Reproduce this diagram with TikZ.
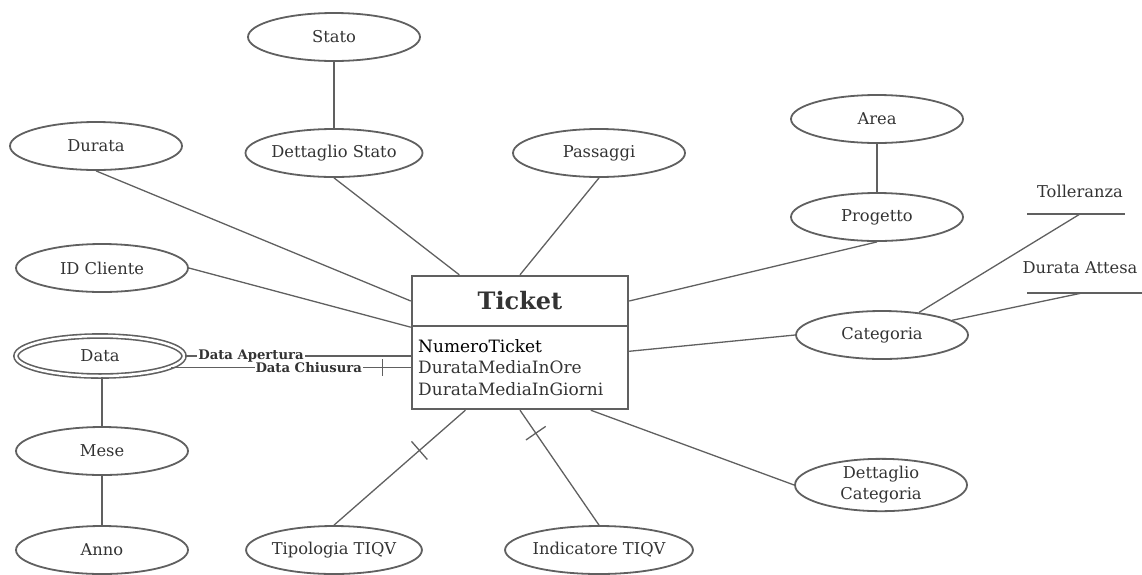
\documentclass[tikz,border=0pt]{standalone}
\usepackage{fontspec}
\setmainfont{DejaVu Serif}
\usetikzlibrary{shapes.geometric,calc}
\definecolor{lc}{HTML}{606060}
\definecolor{tc}{HTML}{333333}
\newcommand{\erTick}[4]{%
  \coordinate (tk) at ($(#1)!#3!(#2)$);
  \draw[conn] ($(tk)!#4!90:(#2)$) -- ($(tk)!#4!-90:(#2)$);}
\begin{document}
\begin{tikzpicture}[x=1pt,y=-1pt,
  attr/.style={ellipse,draw=lc,line width=1.8pt,minimum width=172pt,minimum height=48pt,inner sep=0pt,text=tc,font=\fontsize{16.3}{21}\selectfont},
  dattr/.style={ellipse,draw=lc,line width=1.6pt,double=white,double distance=2.5pt,minimum width=168pt,minimum height=40pt,inner sep=0pt,text=tc,font=\fontsize{16.3}{21}\selectfont},
  conn/.style={draw=lc,line width=1.3pt},
  box/.style={draw=lc,line width=2.4pt,minimum width=216pt,inner sep=0pt},
  lab/.style={fill=white,inner sep=1pt,text=tc,font=\bfseries\fontsize{13.2}{15}\selectfont},
  plain/.style={text=tc,inner sep=0pt,font=\fontsize{16.3}{21}\selectfont},
  attrtxt/.style={anchor=base west,inner sep=0pt,font=\fontsize{17}{21}\selectfont,text=tc}
]
\useasboundingbox (0,0) rectangle (1142,574);

% ellipses
\node[attr] (stato) at (334,37) {Stato};
\node[attr] (dettstato) at (334,153) {Dettaglio Stato};
\node[attr] (durata) at (96,146) {Durata};
\node[attr] (passaggi) at (599,153) {Passaggi};
\node[attr] (area) at (877,119) {Area};
\node[attr] (progetto) at (877,217) {Progetto};
\node[attr] (idcliente) at (102,268) {ID Cliente};
\node[dattr] (data) at (100,356) {Data};
\node[attr] (mese) at (102,451) {Mese};
\node[attr] (anno) at (102,550) {Anno};
\node[attr] (tipologia) at (334,550) {Tipologia TIQV};
\node[attr] (indicatore) at (599,550) {Indicatore TIQV};
\node[attr] (categoria) at (882,335) {Categoria};
\node[attr,align=center] (dettcat) at (881,485) {Dettaglio\\Categoria};

% Ticket entity
\node[box,minimum height=50pt,text=tc,font=\bfseries\fontsize{24}{28}\selectfont] (head) at (520,301) {Ticket};
\node[box,minimum height=83pt] (body) at (520,367.5) {};
\node[attrtxt,text=black] (a1) at (418,352) {NumeroTicket};
\node[attrtxt] (a2) at (418,373.5) {DurataMediaInOre};
\node[attrtxt] (a3) at (418,395) {DurataMediaInGiorni};

% Tolleranza / Durata Attesa
\node[plain] (toll) at (1080,191) {Tolleranza};
\coordinate (tolL) at (1027,214);
\coordinate (tolR) at (1125,214);
\coordinate (tolM) at (1080,214);
\draw[conn] (tolL) -- (tolR);
\node[plain] (datt) at (1080,268) {Durata Attesa};
\coordinate (datL) at (1027,293);
\coordinate (datR) at (1142,293);
\coordinate (datM) at (1082,293);
\draw[conn] (datL) -- (datR);

% connectors
\draw[conn] (stato) -- (dettstato);
\draw[conn] (area) -- (progetto);
\draw[conn] (mese.north |- data.south) -- (mese.north);
\draw[conn] (mese) -- (anno);
\draw[conn] (durata.south) -- (head.west);
\draw[conn] (idcliente.east) -- (head.south west);
\draw[conn] (dettstato.south) -- ($(head.north west)!0.222!(head.north east)$);
\draw[conn] (passaggi.south) -- (head.north);
\draw[conn] (progetto.south) -- (head.east);
\draw[conn] (categoria.west) -- ($(body.north east)!0.31!(body.south east)$);
\draw[conn] (dettcat.west) -- ($(body.south west)!0.824!(body.south east)$);
\draw[conn] (categoria) -- (tolM);
\draw[conn] (categoria) -- (datM);

\coordinate (tipB) at ($(body.south west)!0.25!(body.south east)$);
\draw[conn] (tipologia.north) -- (tipB);
\erTick{tipB}{tipologia.north}{0.35}{12pt}
\coordinate (indB) at (body.south);
\draw[conn] (indicatore.north) -- (indB);
\erTick{indB}{indicatore.north}{0.2}{12pt}

\coordinate (apB) at (data.east -| body.west);
\draw[conn] (data.east) -- node[lab,pos=0.293] {Data Apertura} (apB);
\coordinate (chB) at (data.-9 -| body.west);
\draw[conn] (data.-9) -- node[lab,pos=0.574] {Data Chiusura} (chB);
\erTick{chB}{data.-9}{28pt}{8.5pt}
\end{tikzpicture}
\end{document}
